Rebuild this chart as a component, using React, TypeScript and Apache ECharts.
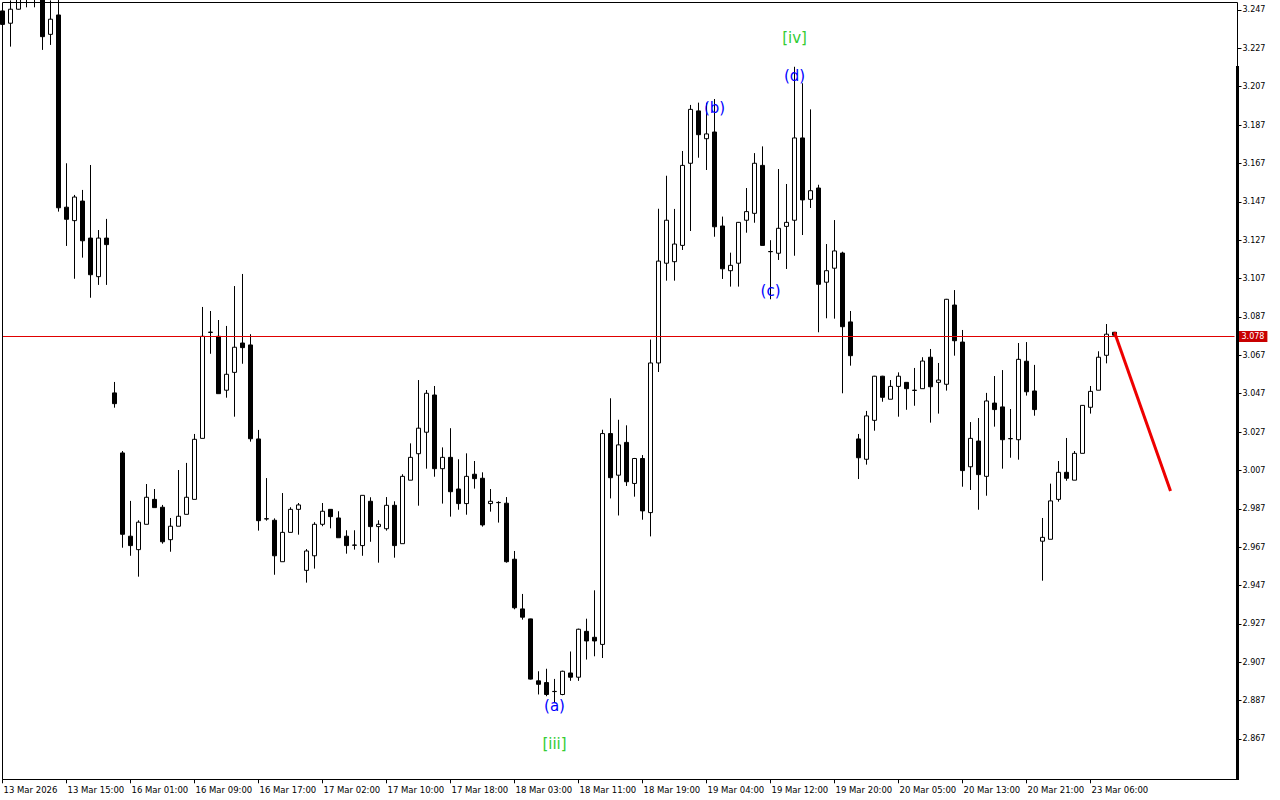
import React, { useEffect, useRef } from "react";
import * as echarts from "echarts";

// Hourly OHLC, one entry per bar (index 0 = first bar on the left)
const opens = [
  3.2465, 3.2401, 3.2474, 3.2555, 3.2580, 3.2545, 3.2343, 3.2444, 3.1442, 3.1372,
  3.1474, 3.1281, 3.1080, 3.1281, 3.0474, 3.0161, 2.9727, 2.9657, 2.9789, 2.9919,
  2.9878, 2.9709, 2.9779, 2.9841, 2.9919, 3.0237, 3.0789, 3.0769, 3.0488, 3.0581,
  3.0734, 3.0724, 3.0234, 2.9818, 2.9810, 2.9594, 2.9747, 2.9867, 2.9549, 2.9625,
  2.9789, 2.9867, 2.9822, 2.9727, 2.9681, 2.9678, 2.9909, 2.9777, 2.9766, 2.9888,
  2.9688, 3.0019, 3.0157, 3.0269, 3.0463, 3.0079, 3.0138, 2.9973, 2.9897, 3.0050,
  3.0029, 2.9897, 2.9902, 2.9899, 2.9607, 2.9348, 2.9296, 2.8973, 2.8964, 2.8918,
  2.8902, 2.9014, 2.8992, 2.9231, 2.9200, 2.9163, 3.0262, 3.0045, 3.0216, 3.0002,
  3.0132, 2.9850, 3.0630, 3.1150, 3.1158, 3.1243, 3.1671, 3.1944, 3.1799, 3.1834,
  3.1344, 3.1111, 3.1150, 3.1374, 3.1410, 3.1660, 3.1211, 3.1202, 3.1342, 3.1374,
  3.1803, 3.1483, 3.1542, 3.1051, 3.1124, 3.1203, 3.0844, 3.0234, 3.0128, 3.0331,
  3.0561, 3.0441, 3.0508, 3.0529, 3.0488, 3.0496, 3.0660, 3.0529, 3.0519, 3.0932,
  3.0739, 3.0089, 3.0223, 3.0039, 3.0421, 3.0401, 3.0236, 3.0230, 3.0639, 3.0484,
  2.9701, 2.9711, 2.9919, 3.0060, 3.0019, 3.0159, 3.0399, 3.0488, 3.0670, 3.0790,
];
const closes = [
  3.2395, 3.2474, 3.2535, 3.2575, 3.2540, 3.2331, 3.2422, 3.1439, 3.1379, 3.1495,
  3.1267, 3.1090, 3.1281, 3.1247, 3.0418, 2.9737, 2.9678, 2.9800, 2.9930, 2.9876,
  2.9698, 2.9779, 2.9831, 2.9930, 3.0232, 3.0769, 3.0791, 3.0470, 3.0571, 3.0712,
  3.0710, 3.0235, 2.9808, 2.9817, 2.9625, 2.9747, 2.9867, 2.9890, 2.9650, 2.9789,
  2.9857, 2.9829, 2.9719, 2.9678, 2.9680, 2.9940, 2.9777, 2.9789, 2.9888, 2.9678,
  3.0039, 3.0138, 3.0290, 3.0472, 3.0079, 3.0138, 2.9959, 2.9897, 3.0039, 3.0027,
  2.9786, 2.9909, 2.9903, 2.9594, 2.9354, 2.9305, 2.8982, 2.8955, 2.8902, 2.8917,
  2.9023, 2.8992, 2.9242, 2.9181, 2.9181, 3.0262, 3.0032, 3.0203, 3.0011, 3.0132,
  2.9859, 3.0630, 3.1161, 3.1374, 3.1250, 3.1660, 3.1952, 3.1820, 3.1824, 3.1340,
  3.1121, 3.1139, 3.1363, 3.1419, 3.1671, 3.1243, 3.1210, 3.1332, 3.1363, 3.1803,
  3.1480, 3.1528, 3.1040, 3.1111, 3.1214, 3.0819, 3.0668, 3.0136, 3.0354, 3.0561,
  3.0451, 3.0508, 3.0561, 3.0496, 3.0487, 3.0640, 3.0506, 3.0541, 3.0962, 3.0746,
  3.0069, 3.0237, 3.0048, 3.0432, 3.0387, 3.0230, 3.0235, 3.0649, 3.0480, 3.0387,
  2.9721, 2.9911, 3.0060, 3.0029, 3.0159, 3.0409, 3.0482, 3.0660, 3.0780, 3.0775,
];
const lows = [
  3.2393, 3.2279, 3.2472, 3.2484, 3.2484, 3.2262, 3.2288, 3.1419, 3.1240, 3.1069,
  3.1179, 3.0970, 3.1037, 3.1037, 3.0397, 2.9667, 2.9625, 2.9516, 2.9789, 2.9876,
  2.9688, 2.9646, 2.9779, 2.9841, 2.9919, 3.0237, 3.0678, 3.0470, 3.0449, 3.0350,
  3.0626, 3.0220, 2.9756, 2.9808, 2.9526, 2.9594, 2.9747, 2.9735, 2.9485, 2.9558,
  2.9779, 2.9768, 2.9719, 2.9636, 2.9657, 2.9625, 2.9698, 2.9589, 2.9756, 2.9615,
  2.9688, 3.0019, 2.9886, 3.0079, 3.0037, 2.9897, 2.9829, 2.9865, 2.9839, 2.9975,
  2.9777, 2.9855, 2.9798, 2.9589, 2.9346, 2.9292, 2.8980, 2.8902, 2.8893, 2.8858,
  2.8898, 2.8973, 2.8973, 2.9084, 2.9101, 2.9092, 2.9924, 2.9835, 2.9989, 2.9933,
  2.9813, 2.9726, 3.0583, 3.1059, 3.1059, 3.1219, 3.1318, 3.1700, 3.1636, 3.1288,
  3.1068, 3.1028, 3.1028, 3.1309, 3.1361, 3.1243, 3.0962, 3.1167, 3.1120, 3.1189,
  3.1297, 3.1438, 3.0790, 3.0863, 3.0861, 3.0472, 3.0616, 3.0025, 3.0100, 3.0277,
  3.0428, 3.0441, 3.0350, 3.0386, 3.0407, 3.0496, 3.0319, 3.0366, 3.0486, 3.0668,
  2.9985, 2.9968, 2.9865, 2.9938, 3.0298, 3.0079, 3.0136, 3.0126, 3.0460, 3.0355,
  2.9495, 2.9711, 2.9907, 3.0016, 3.0019, 3.0159, 3.0366, 3.0488, 3.0628, 3.0765,
];
const highs = [
  3.2496, 3.2520, 3.2550, 3.2590, 3.2600, 3.2560, 3.2520, 3.2525, 3.1671, 3.1506,
  3.1532, 3.1662, 3.1323, 3.1381, 3.0531, 3.0171, 2.9911, 2.9810, 2.9999, 2.9973,
  2.9890, 2.9822, 3.0072, 3.0109, 3.0260, 3.0922, 3.0901, 3.0854, 3.0823, 3.1031,
  3.1094, 3.0780, 3.0281, 3.0030, 2.9820, 2.9952, 2.9878, 2.9900, 2.9660, 2.9800,
  2.9900, 2.9867, 2.9857, 2.9758, 2.9758, 2.9940, 2.9930, 2.9810, 2.9931, 2.9909,
  3.0050, 3.0211, 3.0541, 3.0489, 3.0510, 3.0190, 3.0290, 3.0128, 3.0159, 3.0119,
  3.0060, 2.9973, 2.9909, 2.9931, 2.9650, 2.9426, 2.9297, 2.9023, 2.9036, 2.8983,
  2.9026, 2.9126, 2.9245, 2.9297, 2.9445, 3.0282, 3.0446, 3.0334, 3.0305, 3.0135,
  3.0150, 3.0752, 3.1434, 3.1606, 3.1433, 3.1735, 3.1975, 3.1987, 3.1987, 3.2006,
  3.1393, 3.1205, 3.1365, 3.1542, 3.1724, 3.1759, 3.1270, 3.1641, 3.1563, 3.2174,
  3.2088, 3.1952, 3.1559, 3.1250, 3.1375, 3.1210, 3.0901, 3.0260, 3.0380, 3.0563,
  3.0563, 3.0541, 3.0581, 3.0529, 3.0604, 3.0660, 3.0703, 3.0630, 3.0964, 3.1010,
  3.0802, 3.0322, 3.0343, 3.0474, 3.0562, 3.0593, 3.0390, 3.0734, 3.0739, 3.0620,
  2.9822, 3.0001, 3.0119, 3.0239, 3.0171, 3.0409, 3.0510, 3.0691, 3.0833, 3.0792,
];

// Time-axis labels, one every 8 bars
const tickLabels = [
  "13 Mar 2026", "13 Mar 15:00", "16 Mar 01:00", "16 Mar 09:00", "16 Mar 17:00",
  "17 Mar 02:00", "17 Mar 10:00", "17 Mar 18:00", "18 Mar 03:00", "18 Mar 11:00",
  "18 Mar 19:00", "19 Mar 04:00", "19 Mar 12:00", "19 Mar 20:00", "20 Mar 05:00",
  "20 Mar 13:00", "20 Mar 21:00", "23 Mar 06:00",
];
const LABEL_STEP = 8;
const priceTicks = [
  2.867, 2.887, 2.907, 2.927, 2.947, 2.967, 2.987, 3.007, 3.027, 3.047,
  3.067, 3.087, 3.107, 3.127, 3.147, 3.167, 3.187, 3.207, 3.227, 3.247,
];
const priceMin = 2.84598;
const priceMax = 3.25101;
const CATEGORY_COUNT = 155; // bars + empty space on the right

const lastPrice = 3.0768;
const lastPriceLabel = "3.078";

// forecast trend line
const forecastX = [139, 146];
const forecastY = [3.079, 2.9963];

// Elliott wave labels
const waveText = ["(a)", "[iii]", "(b)", "(c)", "(d)", "[iv]"];
const waveBar = [69, 69, 89, 96, 99, 99];
const waveValue = [2.8842, 2.8644, 3.1959, 3.1005, 3.2126, 3.2324];
const waveKind = ["minor", "major", "minor", "minor", "minor", "major"];

const FONT = "DejaVu Sans";
const PRICE_RED = "#e00000";

export default function App() {
  const ref = useRef<HTMLDivElement>(null);

  useEffect(() => {
    if (!ref.current) return;
    const chart = echarts.init(ref.current, undefined, { renderer: "svg" });

    const categories = Array.from({ length: CATEGORY_COUNT }, (_, i) => String(i));
    const candleData = opens.map((o, i) => [o, closes[i], lows[i], highs[i]]);
    const isLabelIndex = (i: number) =>
      i % LABEL_STEP === 0 && i / LABEL_STEP < tickLabels.length;

    const option: any = {
      animation: false,
      backgroundColor: "#ffffff",
      textStyle: { fontFamily: FONT },
      grid: {
        left: 2.5,
        top: 2.3,
        width: (CATEGORY_COUNT - 1) * 8,
        height: 777,
        containLabel: false,
        outerBoundsMode: "none",
      },
      xAxis: {
        type: "category",
        data: categories,
        boundaryGap: false,
        axisLine: { show: false },
        axisTick: {
          show: true,
          length: 4,
          interval: (i: number) => isLabelIndex(i),
          lineStyle: { color: "#000", width: 1 },
        },
        axisLabel: {
          show: true,
          interval: (i: number) => isLabelIndex(i),
          formatter: (_v: string, i: number) =>
            isLabelIndex(i) ? tickLabels[i / LABEL_STEP] : "",
          align: "left",
          margin: 6,
          color: "#000",
          fontSize: 8.5,
          fontFamily: FONT,
          padding: [0, 0, 0, 1],
        },
        splitLine: { show: false },
      },
      yAxis: {
        type: "value",
        position: "right",
        offset: 3,
        min: priceMin,
        max: priceMax,
        scale: true,
        axisLine: { show: false },
        axisTick: {
          show: true,
          length: 4,
          customValues: priceTicks,
          lineStyle: { color: "#000", width: 1 },
        },
        axisLabel: {
          show: true,
          customValues: priceTicks,
          formatter: (v: number) => v.toFixed(3),
          margin: 5,
          color: "#000",
          fontSize: 8,
          fontFamily: FONT,
        },
        splitLine: { show: false },
      },
      graphic: [
        {
          type: "rect",
          silent: true,
          z: 100,
          shape: { x: 2.5, y: 2.5, width: 1235, height: 777 },
          style: { fill: "none", stroke: "#000", lineWidth: 1 },
        },
        {
          type: "rect",
          silent: true,
          z: 100,
          shape: { x: 1236, y: 66, width: 3, height: 714 },
          style: { fill: "#000" },
        },
      ],
      series: [
        {
          type: "candlestick",
          data: candleData,
          barWidth: 4,
          clip: true,
          itemStyle: {
            color: "#ffffff",
            color0: "#000000",
            borderColor: "#000000",
            borderColor0: "#000000",
            borderColorDoji: "#000000",
            borderWidth: 1,
          },
          markPoint: {
            silent: true,
            symbol: "circle",
            symbolSize: 0,
            data: waveText.map((t, i) => ({
              name: t,
              coord: [waveBar[i], waveValue[i]],
              label: { color: waveKind[i] === "major" ? "#33cc33" : "#0000ff" },
            })),
            label: {
              show: true,
              position: "inside",
              formatter: "{b}",
              fontSize: 15,
              fontFamily: FONT,
              align: "center",
              verticalAlign: "middle",
            },
          },
        },
        {
          type: "line",
          data: forecastX.map((x, i) => [x, forecastY[i]]),
          showSymbol: false,
          symbol: "none",
          silent: true,
          z: 5,
          color: "#ee0000",
          lineStyle: { color: "#ee0000", width: 3 },
          markLine: {
            silent: true,
            precision: 4,
            symbol: ["none", "none"],
            data: [{ yAxis: lastPrice }],
            itemStyle: { color: PRICE_RED },
            lineStyle: { color: PRICE_RED, width: 1, type: "solid", opacity: 1 },
            emphasis: { disabled: true },
            label: {
              show: true,
              position: "end",
              formatter: lastPriceLabel,
              color: "#ffffff",
              backgroundColor: "#c80000",
              padding: [2, 3, 1, 3],
              fontSize: 8,
              fontFamily: FONT,
              distance: 4,
            },
          },
        },
      ],
    };

    chart.setOption(option);
    return () => chart.dispose();
  }, []);

  return (
    <div
      ref={ref}
      style={{
        position: "fixed",
        left: 0,
        top: 0,
        width: 1280,
        height: 800,
        background: "#fff",
      }}
    />
  );
}
